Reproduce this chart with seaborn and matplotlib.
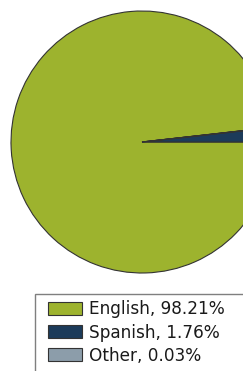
import matplotlib
matplotlib.use('Agg')
import matplotlib.pyplot as plt
import matplotlib.patches as mpatches
import seaborn as sns

languages = ['English', 'Spanish', 'Other']
shares = [98.21, 1.76, 0.03]
colours = ['#9db32e', '#1c3b5a', '#8c9daa']

sns.set_style('white')
plt.rcParams['font.family'] = ['DejaVu Sans']

W, H = 243, 371
fig = plt.figure(figsize=(W / 100, H / 100), dpi=100)

# pie axes, placed in pixel terms; it runs off the right edge like the original
left, top, size = 11, 11, 262
ax = fig.add_axes([left / W, 1 - (top + size) / H, size / W, size / H])
ax.pie(shares, colors=colours, startangle=-360 * shares[0] / 100, counterclock=True,
       wedgeprops=dict(edgecolor='#333333', linewidth=0.8))
ax.set_xlim(-1, 1)
ax.set_ylim(-1, 1)
ax.set_aspect('equal')
ax.axis('off')

# legend box: drawn separately, runs off the right and bottom edges
fig.patches.append(mpatches.Rectangle((34.5 / W, -0.05), 1, 1 - 293.5 / H + 0.05,
                                      transform=fig.transFigure, facecolor='white',
                                      edgecolor='#7f7f7f', linewidth=1.0, zorder=0))

labels = [f'{l}, {s:.2f}%' for l, s in zip(languages, shares)]
handles = [mpatches.Patch(facecolor=c, edgecolor='#333333', linewidth=0.8) for c in colours]
leg = fig.legend(handles, labels, loc='upper left',
                 bbox_to_anchor=(48 / W, 1 - 300.5 / H),
                 bbox_transform=fig.transFigure, borderaxespad=0, borderpad=0,
                 frameon=False,
                 fontsize=12.2, handlelength=2.0, handleheight=0.78,
                 handletextpad=0.42, labelspacing=0.3,
                 labelcolor='#1a1a1a')

fig.savefig('out.png', dpi=100)
